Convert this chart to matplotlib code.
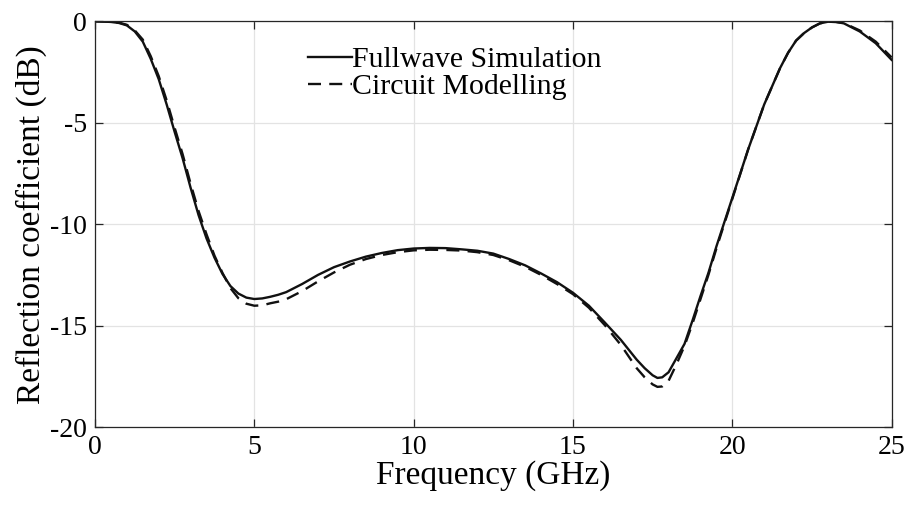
import matplotlib
matplotlib.use("Agg")
import matplotlib.pyplot as plt

plt.rcParams["font.family"] = ["Liberation Serif", "DejaVu Serif"]
plt.rcParams["axes.unicode_minus"] = False

# Frequency points (GHz)
freq = [0.0, 0.25, 0.5, 0.75, 1.0, 1.25, 1.5, 1.75, 2.0, 2.25, 2.5, 2.75,
        3.0, 3.25, 3.5, 3.75, 4.0, 4.25, 4.5, 4.75, 5.0, 5.25, 5.5, 5.75,
        6.0, 6.5, 7.0, 7.5, 8.0, 8.5, 9.0, 9.5, 10.0, 10.5, 11.0, 11.5,
        12.0, 12.5, 13.0, 13.5, 14.0, 14.5, 15.0, 15.5, 16.0, 16.5, 17.0,
        17.25, 17.5, 17.65, 17.8, 18.0, 18.25, 18.5, 18.75, 19.0, 19.25,
        19.5, 20.0, 20.5, 21.0, 21.5, 21.75, 22.0, 22.25, 22.5, 22.75, 23.0,
        23.25, 23.5, 23.75, 24.0, 24.5, 25.0]

# Reflection coefficient (dB), full-wave EM simulation
s11_fullwave = [0.0, -0.01, -0.03, -0.08, -0.2, -0.5, -1.0, -1.85, -2.85,
                -4.1, -5.45, -6.75, -8.2, -9.55, -10.7, -11.65, -12.45,
                -13.05, -13.42, -13.62, -13.69, -13.66, -13.58, -13.48,
                -13.35, -12.95, -12.5, -12.12, -11.84, -11.6, -11.42, -11.28,
                -11.2, -11.17, -11.18, -11.24, -11.31, -11.45, -11.72,
                -12.03, -12.43, -12.86, -13.38, -14.02, -14.85, -15.7,
                -16.68, -17.1, -17.45, -17.58, -17.55, -17.3, -16.6, -15.9,
                -14.75, -13.55, -12.4, -11.1, -8.7, -6.3, -4.1, -2.3, -1.55,
                -0.95, -0.58, -0.3, -0.1, -0.02, -0.03, -0.1, -0.3, -0.5,
                -1.08, -1.9]

# Reflection coefficient (dB), equivalent circuit model
s11_circuit = [0.0, -0.01, -0.02, -0.06, -0.17, -0.45, -0.9, -1.72, -2.7,
               -3.9, -5.25, -6.55, -8.0, -9.35, -10.5, -11.55, -12.4,
               -13.15, -13.65, -13.92, -14.02, -14.0, -13.9, -13.82, -13.7,
               -13.3, -12.82, -12.38, -12.0, -11.72, -11.52, -11.38, -11.29,
               -11.26, -11.27, -11.3, -11.38, -11.52, -11.78, -12.1, -12.5,
               -12.95, -13.45, -14.12, -14.98, -15.95, -17.1, -17.55, -17.9,
               -18.02, -18.0, -17.72, -16.9, -16.0, -14.9, -13.7, -12.5,
               -11.2, -8.75, -6.3, -4.1, -2.3, -1.55, -0.95, -0.58, -0.3,
               -0.1, -0.02, -0.03, -0.08, -0.27, -0.45, -1.0, -1.78]

x_ticks = [0, 5, 10, 15, 20, 25]
y_ticks = [-20, -15, -10, -5, 0]

fig = plt.figure(figsize=(9.08, 5.08), dpi=100)
ax = fig.add_axes([0.1046, 0.1594, 0.8774, 0.7986])

ax.plot(freq, s11_fullwave, color="#111111", lw=1.7, label="Fullwave Simulation")
ax.plot(freq, s11_circuit, color="#111111", lw=1.7, linestyle=(0, (5.5, 3.5)),
        label="Circuit Modelling")

ax.set_xlim(0, 25)
ax.set_ylim(-20, 0)
ax.set_xticks(x_ticks)
ax.set_yticks(y_ticks)
ax.grid(True, color="#e3e3e3", lw=0.9)
ax.set_axisbelow(True)

for sp in ax.spines.values():
    sp.set_color("#262626")
    sp.set_linewidth(0.9)
ax.tick_params(direction="in", length=6, width=0.9, colors="#262626",
               top=True, right=True, labelsize=20, pad=6)
for lbl in ax.get_xticklabels() + ax.get_yticklabels():
    lbl.set_color("black")

ax.set_xlabel("Frequency (GHz)", fontsize=24, labelpad=0)
ax.set_ylabel("Reflection coefficient (dB)", fontsize=24, labelpad=2)

ax.legend(loc="center left", bbox_to_anchor=(0.267, 0.872), frameon=False,
          fontsize=21.5, handlelength=1.5, handletextpad=0.0, labelspacing=0.0,
          borderpad=0.0, borderaxespad=0.0)

fig.savefig("out.png", dpi=100)
